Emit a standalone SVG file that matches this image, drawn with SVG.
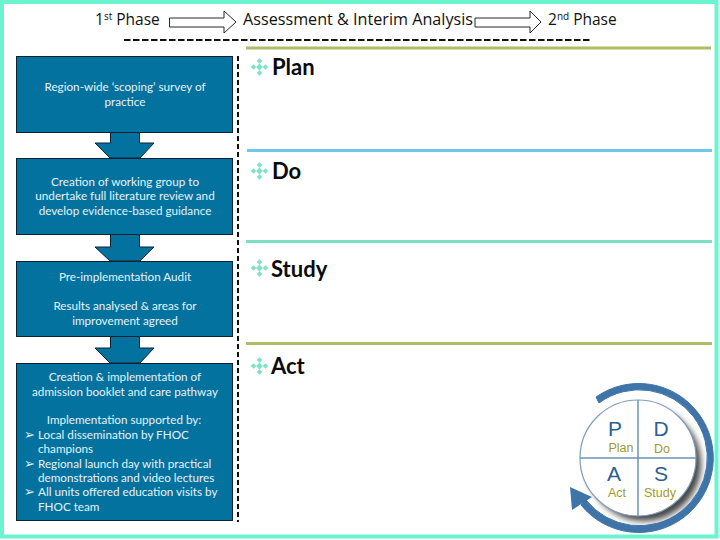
<svg xmlns="http://www.w3.org/2000/svg" width="720" height="540" viewBox="0 0 720 540">
<style>
.h{font-family:"Open Sans","Liberation Sans",sans-serif;font-size:15.500px;fill:#111}
.b{fill:#04729f;stroke:#0c2233;stroke-width:1}
.t{font-family:Lato,"Open Sans",sans-serif;font-size:11.700px;fill:#e4f2f7;text-anchor:middle}
.l{text-anchor:start}
.m{font-family:"DejaVu Sans",sans-serif;font-size:13px;fill:#e4f2f7}
.p{font-family:Lato,"Open Sans",sans-serif;font-size:22px;font-weight:700;fill:#0a0a0a}
.d{fill:#7fe3c8}
.ha{fill:#fff;stroke:#111;stroke-width:.9}
.L{font-family:"Liberation Sans",Arial,sans-serif;fill:#2a5f94;text-anchor:middle;font-size:21px}
.s{font-family:"Liberation Sans",Arial,sans-serif;fill:#9f9a2a;text-anchor:middle;font-size:12.500px}
</style>
<defs>
<filter id="bl" x="-30%" y="-30%" width="160%" height="160%"><feGaussianBlur stdDeviation="3"/></filter>
<g id="dia"><path class="d" d="M0-3.500L3.500 0L0 3.500L-3.500 0ZM0-8.800L2.800-6L0-3.200L-2.800-6ZM0 3.200L2.800 6L0 8.800L-2.800 6ZM-8.800 0L-6-2.800L-3.200 0L-6 2.800ZM3.200 0L6-2.800L8.800 0L6 2.800Z"/></g>
</defs>
<rect width="720" height="540" fill="#fff"/>
<rect x="2" y="2" width="714.500" height="534.500" fill="none" stroke="#6bf4cd" stroke-width="4"/>

<g id="connectors">
<path class="b" d="M110.500 132V143H95L110 158H140L154 143H139.500V132Z"/>
<path class="b" d="M110.500 234V247H95L110 261H140L154 247H139.500V234Z"/>
<path class="b" d="M110.500 336V348H95L110 363H140L154 348H139.500V336Z"/>
<path class="ha" d="M169.500 18H224V11L236 22L224 33V27H169.500Z"/>
<path class="ha" d="M475 18H530V11L541 22L530 33V27H475Z"/>
<path d="M124 40H590" fill="none" stroke="#111" stroke-width="2" stroke-dasharray="6.500 2.500"/>
<path d="M238 56V522" fill="none" stroke="#111" stroke-width="2" stroke-dasharray="5 3"/>
</g>

<g id="header">
<text class="h" x="95" y="25">1<tspan font-size="10" dy="-5">st</tspan><tspan dy="5"> Phase</tspan></text>
<text class="h" x="243" y="25" textLength="230" lengthAdjust="spacingAndGlyphs">Assessment &amp; Interim Analysis</text>
<text class="h" x="548" y="25">2<tspan font-size="10" dy="-5">nd</tspan><tspan dy="5"> Phase</tspan></text>
</g>

<g id="n1"><rect class="b" x="16.500" y="56.500" width="216" height="76"/>
<text class="t" x="125" y="91">Region-wide ‘scoping’ survey of</text><text class="t" x="125" y="106">practice</text></g>
<g id="n2"><rect class="b" x="16.500" y="158.500" width="216" height="76"/>
<text class="t" x="125" y="186">Creation of working group to</text><text class="t" x="125" y="200">undertake full literature review and</text><text class="t" x="125" y="215">develop evidence-based guidance</text></g>
<g id="n3"><rect class="b" x="16.500" y="261.500" width="216" height="75"/>
<text class="t" x="125" y="281">Pre-implementation Audit</text><text class="t" x="125" y="310">Results analysed &amp; areas for</text><text class="t" x="125" y="325">improvement agreed</text></g>
<g id="n4"><rect class="b" x="16.500" y="363.500" width="216" height="157"/>
<text class="t" x="125" y="381">Creation &amp; implementation of</text><text class="t" x="125" y="396">admission booklet and care pathway</text>
<text class="t" x="124" y="424">Implementation supported by:</text>
<text class="m" x="24" y="439">➢</text><text class="t l" x="38" y="439">Local dissemination by FHOC</text><text class="t l" x="38" y="453">champions</text>
<text class="m" x="24" y="468">➢</text><text class="t l" x="38" y="468">Regional launch day with practical</text><text class="t l" x="38" y="482">demonstrations and video lectures</text>
<text class="m" x="24" y="496">➢</text><text class="t l" x="38" y="496">All units offered education visits by</text><text class="t l" x="38" y="511">FHOC team</text></g>

<g id="pdsa-list">
<rect x="246" y="46.500" width="465" height="3" fill="#aebd6a"/>
<rect x="247" y="149" width="465" height="3" fill="#6fc6e8"/>
<rect x="246" y="240" width="466" height="3" fill="#7adfc4"/>
<rect x="246" y="342" width="466" height="3" fill="#aebd6a"/>
<use href="#dia" x="259.500" y="67"/><text class="p" x="272" y="75">Plan</text>
<use href="#dia" x="259.500" y="171"/><text class="p" x="272" y="179">Do</text>
<use href="#dia" x="259.500" y="268"/><text class="p" x="271" y="277">Study</text>
<use href="#dia" x="259.500" y="366"/><text class="p" x="271" y="374">Act</text>
</g>

<g id="logo">
<circle cx="644" cy="464" r="57" fill="#444" filter="url(#bl)"/>
<circle cx="638" cy="458" r="58" fill="#fff" stroke="#7f9db8" stroke-width="1.200"/>
<path d="M638 400V516M580 458H696" fill="none" stroke="#6f93b5" stroke-width="1.500"/>
<path d="M596 397A74.500 74.500 0 1 1 581 505L586 500A68 68 0 1 0 599 403Z" fill="#3f74a8" stroke="#3f74a8" stroke-width="1" stroke-linejoin="round"/>
<path d="M570 487L592 497L572 510Z" fill="#3f74a8"/>
<text class="L" x="615" y="436">P</text><text class="L" x="661" y="436">D</text>
<text class="L" x="614" y="481">A</text><text class="L" x="661" y="481">S</text>
<text class="s" x="621" y="452">Plan</text><text class="s" x="662" y="453">Do</text>
<text class="s" x="617" y="497">Act</text><text class="s" x="660" y="497">Study</text>
</g>
</svg>
